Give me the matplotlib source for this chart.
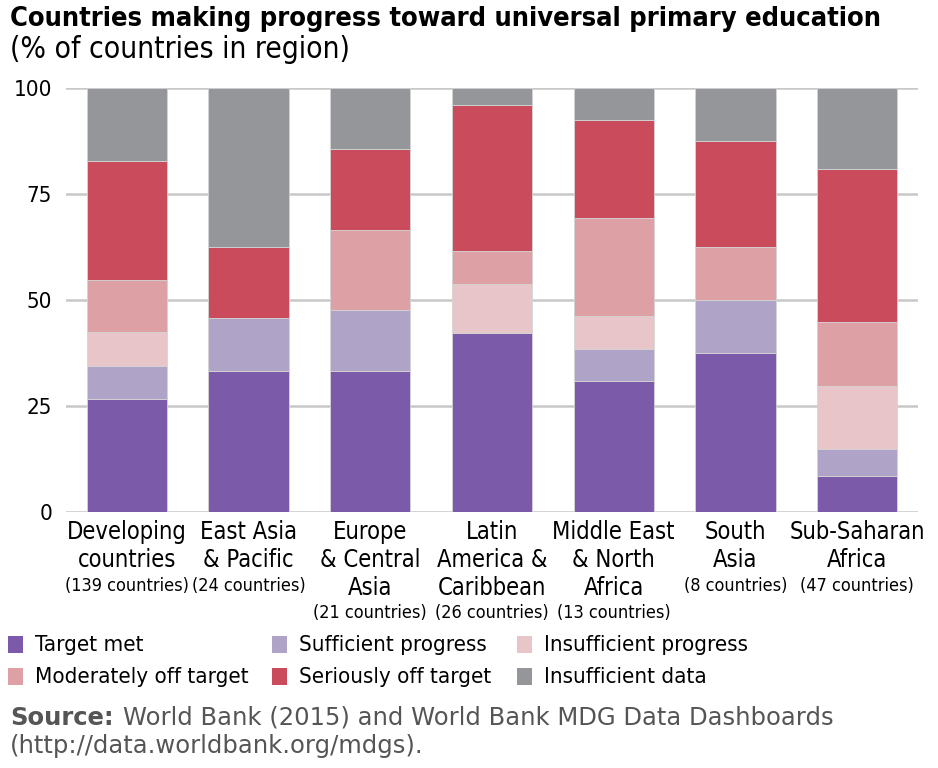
import matplotlib
matplotlib.use('Agg')
import matplotlib.pyplot as plt
from matplotlib.patches import Rectangle
import numpy as np

plt.rcParams['font.family'] = ['DejaVu Sans']
plt.rcParams['font.stretch'] = 'condensed'

regions = ['Developing\ncountries', 'East Asia\n& Pacific', 'Europe\n& Central\nAsia',
           'Latin\nAmerica &\nCaribbean', 'Middle East\n& North\nAfrica', 'South\nAsia',
           'Sub-Saharan\nAfrica']
counts = ['(139 countries)', '(24 countries)', '(21 countries)', '(26 countries)',
          '(13 countries)', '(8 countries)', '(47 countries)']

# % of countries in region
target_met = [26.6, 33.3, 33.3, 42.3, 30.8, 37.5, 8.5]
sufficient = [7.9, 12.5, 14.3, 0, 7.7, 12.5, 6.4]
insufficient = [7.9, 0, 0, 11.5, 7.7, 0, 14.9]
moderately = [12.2, 0, 19.0, 7.7, 23.1, 12.5, 14.9]
seriously = [28.1, 16.7, 19.0, 34.6, 23.1, 25.0, 36.2]
no_data = [17.3, 37.5, 14.4, 3.9, 7.6, 12.5, 19.1]

series = [target_met, sufficient, insufficient, moderately, seriously, no_data]
names = ['Target met', 'Sufficient progress', 'Insufficient progress',
         'Moderately off target', 'Seriously off target', 'Insufficient data']
colors = ['#7b5aa9', '#b0a3c8', '#e8c5c9', '#dda0a4', '#c94b5c', '#959699']

fig = plt.figure(figsize=(9.38, 7.68), dpi=100)
ax = fig.add_axes([66 / 938, 1 - 512 / 768, 852 / 938, 424 / 768])

x = np.arange(len(regions))
bottom = np.zeros(len(regions))
for vals, col in zip(series, colors):
    ax.bar(x, vals, 0.66, bottom=bottom, color=col, edgecolor='#d4d4d4', linewidth=0.6, zorder=3)
    bottom += np.array(vals)

ax.set_xlim(-0.5, 6.5)
ax.set_ylim(0, 100)
ax.set_yticks([0, 25, 50, 75, 100])
ax.yaxis.grid(True, color='#c8c8c8', linewidth=1.8, zorder=0)
ax.tick_params(axis='y', length=0, labelsize=16, pad=10)
ax.set_xticks([])
for s in ax.spines.values():
    s.set_visible(False)

# category labels under the bars
for i, (r, c) in enumerate(zip(regions, counts)):
    ax.annotate(r, (i, 0), xycoords='data', xytext=(0, -8), textcoords='offset pixels',
                ha='center', va='top', fontsize=17, linespacing=1.2)
    nl = r.count('\n') + 1
    ax.annotate(c, (i, 0), xycoords='data', xytext=(0, -10 - nl * 27.5),
                textcoords='offset pixels', ha='center', va='top', fontsize=13)

fig.text(10 / 938, 1 - 6 / 768, 'Countries making progress toward universal primary education',
         fontsize=19.5, fontweight='bold', va='top', ha='left')
fig.text(10 / 938, 1 - 35 / 768, '(% of countries in region)', fontsize=21.5, va='top', ha='left')

# legend
leg_x = [8, 272, 517]
leg_y = [645, 677]
for k, (nm, col) in enumerate(zip(names, colors)):
    cx = leg_x[k % 3]
    cy = leg_y[k // 3]
    fig.patches.append(Rectangle((cx / 938, 1 - (cy + 8) / 768), 15 / 938, 17 / 768,
                                 transform=fig.transFigure, facecolor=col, edgecolor='none'))
    fig.text((cx + 27) / 938, 1 - cy / 768, nm, fontsize=16, va='center', ha='left')

fig.text(10 / 938, 1 - 718 / 768, 'Source:', fontsize=17.5, fontweight='bold', color='#555555',
         va='center', ha='left', fontstretch='normal')
fig.text(123 / 938, 1 - 718 / 768, 'World Bank (2015) and World Bank MDG Data Dashboards',
         fontsize=17.5, color='#555555', va='center', ha='left', fontstretch='normal')
fig.text(10 / 938, 1 - 746 / 768, '(http://data.worldbank.org/mdgs).',
         fontsize=17.5, color='#555555', va='center', ha='left', fontstretch='normal')

fig.savefig('out.png', dpi=100)
